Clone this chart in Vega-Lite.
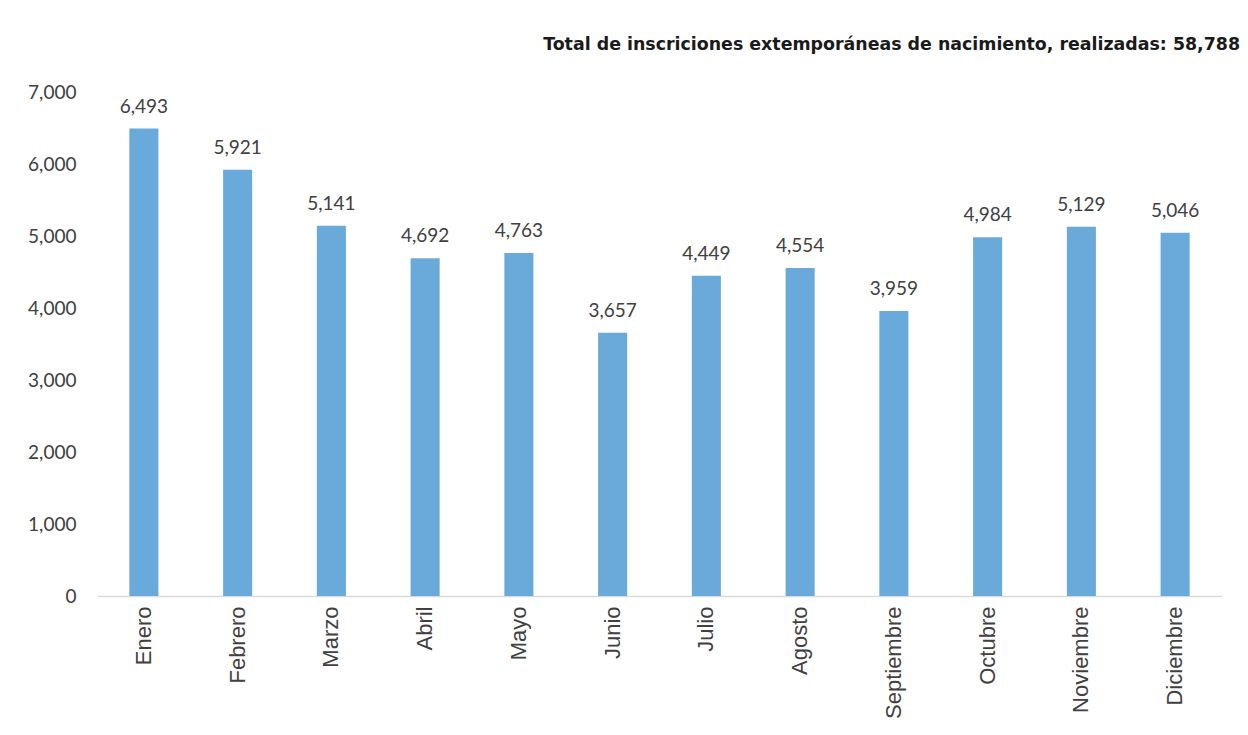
{
  "$schema": "https://vega.github.io/schema/vega-lite/v6.json",
  "autosize": "none",
  "width": 1125,
  "height": 504,
  "padding": {"left": 97, "top": 92, "right": 26, "bottom": 139},
  "background": "#ffffff",
  "config": {"view": {"stroke": null}},
  "title": {
    "text": "Total de inscriciones extemporáneas de nacimiento, realizadas: 58,788",
    "anchor": "end",
    "frame": "group",
    "dx": 18,
    "offset": 30,
    "fontSize": 17.4,
    "fontWeight": "bold",
    "font": "DejaVu Sans",
    "color": "#1a1a1a"
  },
  "data": {
    "values": [
      {"mes": "Enero", "valor": 6493},
      {"mes": "Febrero", "valor": 5921},
      {"mes": "Marzo", "valor": 5141},
      {"mes": "Abril", "valor": 4692},
      {"mes": "Mayo", "valor": 4763},
      {"mes": "Junio", "valor": 3657},
      {"mes": "Julio", "valor": 4449},
      {"mes": "Agosto", "valor": 4554},
      {"mes": "Septiembre", "valor": 3959},
      {"mes": "Octubre", "valor": 4984},
      {"mes": "Noviembre", "valor": 5129},
      {"mes": "Diciembre", "valor": 5046}
    ]
  },
  "encoding": {
    "x": {
      "field": "mes",
      "type": "nominal",
      "sort": null,
      "scale": {"paddingInner": 0.69, "paddingOuter": 0.345},
      "axis": {
        "title": null,
        "labelAngle": -90,
        "labelFont": "Liberation Sans",
        "labelFontSize": 22,
        "labelColor": "#404040",
        "labelPadding": 10,
        "labelOverlap": false,
        "ticks": false,
        "domainColor": "#d9d9d9",
        "domainWidth": 1.5
      }
    },
    "y": {
      "field": "valor",
      "type": "quantitative",
      "scale": {"domain": [0, 7000]},
      "axis": {
        "title": null,
        "values": [0, 1000, 2000, 3000, 4000, 5000, 6000, 7000],
        "format": ",d",
        "grid": false,
        "domain": false,
        "ticks": false,
        "labelOverlap": false,
        "labelFont": "Lato",
        "labelFontSize": 19,
        "labelColor": "#404040",
        "labelPadding": 21
      }
    }
  },
  "layer": [
    {"mark": {"type": "bar", "color": "#6aaadb"}},
    {
      "mark": {"type": "text", "baseline": "alphabetic", "dy": -16, "font": "Lato", "fontSize": 19, "color": "#404040"},
      "encoding": {"text": {"field": "valor", "type": "quantitative", "format": ",d"}}
    }
  ]
}
